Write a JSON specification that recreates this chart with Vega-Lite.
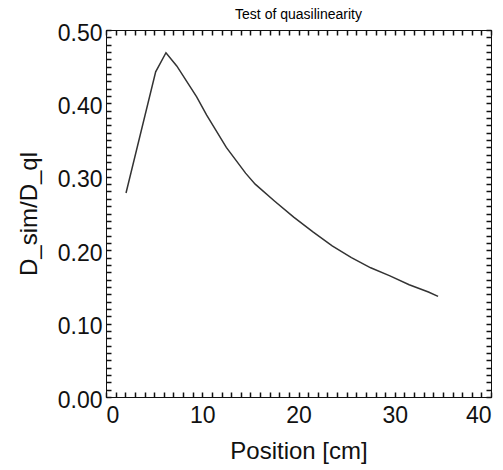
{
  "$schema": "https://vega.github.io/schema/vega-lite/v6.json",
  "width": 385,
  "height": 367,
  "autosize": {"type": "none"},
  "padding": {"left": 106, "top": 30, "right": 12, "bottom": 73},
  "background": "white",
  "title": {"text": "Test of quasilinearity", "font": "Liberation Sans", "fontSize": 14, "fontWeight": "normal", "color": "black", "offset": 0, "anchor": "middle"},
  "config": {"view": {"stroke": "#111111", "strokeWidth": 1}},
  "data": {"values": [
    {"x": 2.08, "y": 0.278},
    {"x": 5.16, "y": 0.443},
    {"x": 6.23, "y": 0.469},
    {"x": 7.35, "y": 0.451},
    {"x": 9.42, "y": 0.409},
    {"x": 10.46, "y": 0.384},
    {"x": 12.5, "y": 0.34},
    {"x": 14.5, "y": 0.305},
    {"x": 15.5, "y": 0.29},
    {"x": 17.5, "y": 0.267},
    {"x": 19.5, "y": 0.245},
    {"x": 21.5, "y": 0.225},
    {"x": 23.5, "y": 0.206},
    {"x": 25.5, "y": 0.19},
    {"x": 27.5, "y": 0.176},
    {"x": 29.5, "y": 0.165},
    {"x": 31.5, "y": 0.153},
    {"x": 33.5, "y": 0.143},
    {"x": 34.5, "y": 0.137}
  ]},
  "layer": [
    {
      "mark": {"type": "line", "color": "#333333", "strokeWidth": 1.5},
      "encoding": {
        "x": {"field": "x", "type": "quantitative", "scale": {"domain": [0, 40], "nice": false},
          "axis": {"orient": "bottom", "title": "Position [cm]", "grid": false,
            "values": [0,1,2,3,4,5,6,7,8,9,10,11,12,13,14,15,16,17,18,19,20,21,22,23,24,25,26,27,28,29,30,31,32,33,34,35,36,37,38,39,40],
            "labelExpr": "datum.value % 10 == 0 ? datum.label : ''",
            "tickSize": -5, "tickColor": "#111111", "tickWidth": 1.5, "domainColor": "#111111",
            "labelPadding": 12, "labelFont": "Liberation Sans", "labelFontSize": 23, "labelColor": "#111111",
            "titleFont": "Liberation Sans", "titleFontSize": 24, "titleFontWeight": "normal", "titleColor": "#111111", "titlePadding": 12}},
        "y": {"field": "y", "type": "quantitative", "scale": {"domain": [0, 0.5], "nice": false},
          "axis": {"orient": "left", "title": "D_sim/D_ql", "grid": false,
            "values": [0,0.01,0.02,0.03,0.04,0.05,0.06,0.07,0.08,0.09,0.1,0.11,0.12,0.13,0.14,0.15,0.16,0.17,0.18,0.19,0.2,0.21,0.22,0.23,0.24,0.25,0.26,0.27,0.28,0.29,0.3,0.31,0.32,0.33,0.34,0.35,0.36,0.37,0.38,0.39,0.4,0.41,0.42,0.43,0.44,0.45,0.46,0.47,0.48,0.49,0.5],
            "labelExpr": "round(datum.value * 100) % 10 == 0 ? format(datum.value, '.2f') : ''",
            "tickSize": -5, "tickColor": "#111111", "tickWidth": 1.5, "domainColor": "#111111",
            "labelPadding": 9, "labelOffset": 3, "labelFont": "Liberation Sans", "labelFontSize": 23, "labelColor": "#111111",
            "titleFont": "Liberation Sans", "titleFontSize": 24, "titleFontWeight": "normal", "titleColor": "#111111", "titlePadding": 16}}
      }
    },
    {
      "mark": {"type": "point", "opacity": 0},
      "encoding": {
        "x": {"field": "x", "type": "quantitative",
          "axis": {"orient": "top", "title": null, "labels": false, "grid": false,
            "values": [0,1,2,3,4,5,6,7,8,9,10,11,12,13,14,15,16,17,18,19,20,21,22,23,24,25,26,27,28,29,30,31,32,33,34,35,36,37,38,39,40],
            "tickSize": -5, "tickColor": "#111111", "tickWidth": 1.5, "domainColor": "#111111"}},
        "y": {"field": "y", "type": "quantitative",
          "axis": {"orient": "right", "title": null, "labels": false, "grid": false,
            "values": [0,0.01,0.02,0.03,0.04,0.05,0.06,0.07,0.08,0.09,0.1,0.11,0.12,0.13,0.14,0.15,0.16,0.17,0.18,0.19,0.2,0.21,0.22,0.23,0.24,0.25,0.26,0.27,0.28,0.29,0.3,0.31,0.32,0.33,0.34,0.35,0.36,0.37,0.38,0.39,0.4,0.41,0.42,0.43,0.44,0.45,0.46,0.47,0.48,0.49,0.5],
            "tickSize": -5, "tickColor": "#111111", "tickWidth": 1.5, "domainColor": "#111111"}}
      }
    }
  ],
  "resolve": {"axis": {"x": "independent", "y": "independent"}}
}
